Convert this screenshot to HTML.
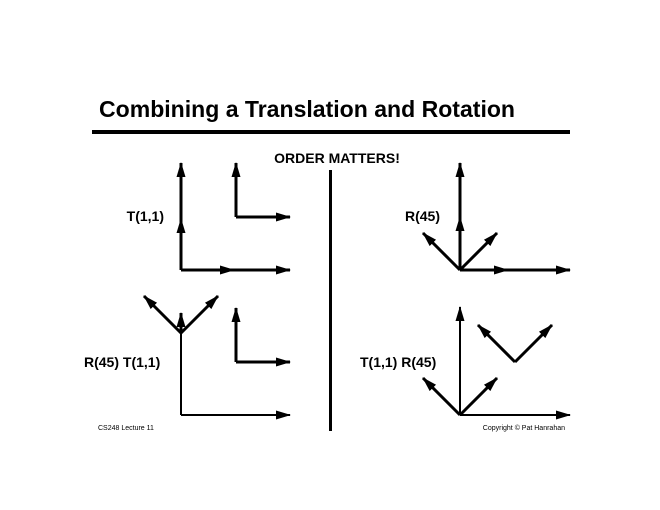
<!DOCTYPE html>
<html><head><meta charset="utf-8"><style>
html,body{margin:0;padding:0;background:#fff;width:660px;height:510px;overflow:hidden}
svg{display:block}
text{font-family:"Liberation Sans",sans-serif;font-weight:bold;fill:#000}
</style></head><body>
<svg width="660" height="510" viewBox="0 0 660 510" xmlns="http://www.w3.org/2000/svg">
<defs>
<marker id="a" markerUnits="userSpaceOnUse" markerWidth="15" markerHeight="10" refX="14" refY="5" orient="auto">
<path d="M0,0.5 L15,5 L0,9.5 Z" fill="#000"/></marker>
</defs>
<text x="99" y="117" font-size="23" textLength="416" lengthAdjust="spacingAndGlyphs">Combining a Translation and Rotation</text>
<rect x="92" y="130" width="478" height="4" fill="#000"/>
<text x="337" y="163" font-size="14" text-anchor="middle">ORDER MATTERS!</text>
<rect x="329" y="170" width="3" height="261" fill="#000"/>
<g stroke="#000" stroke-width="3" fill="none">
<path d="M181,270 L181,163" marker-end="url(#a)"/>
<path d="M181,270 L181,219" marker-end="url(#a)"/>
<path d="M181,270 L290,270" marker-end="url(#a)"/>
<path d="M181,270 L234,270" marker-end="url(#a)"/>
<path d="M236,217 L236,163" marker-end="url(#a)"/>
<path d="M236,217 L290,217" marker-end="url(#a)"/>
<path d="M181,415 L181,313" stroke-width="2"/>
<path d="M181,333 L181,313" marker-end="url(#a)"/>
<path d="M181,415 L290,415" stroke-width="2" marker-end="url(#a)"/>
<path d="M181,333 L144,296" marker-end="url(#a)"/>
<path d="M181,333 L218,296" marker-end="url(#a)"/>
<path d="M236,362 L236,308" marker-end="url(#a)"/>
<path d="M236,362 L290,362" marker-end="url(#a)"/>
<path d="M460,270 L460,163" marker-end="url(#a)"/>
<path d="M460,270 L460,217" marker-end="url(#a)"/>
<path d="M460,270 L570,270" marker-end="url(#a)"/>
<path d="M460,270 L508,270" marker-end="url(#a)"/>
<path d="M460,270 L423,233" marker-end="url(#a)"/>
<path d="M460,270 L497,233" marker-end="url(#a)"/>
<path d="M460,415 L460,307" stroke-width="2" marker-end="url(#a)"/>
<path d="M460,415 L570,415" stroke-width="2" marker-end="url(#a)"/>
<path d="M460,415 L423,378" marker-end="url(#a)"/>
<path d="M460,415 L497,378" marker-end="url(#a)"/>
<path d="M515,362 L478,325" marker-end="url(#a)"/>
<path d="M515,362 L552,325" marker-end="url(#a)"/>
</g>
<text x="164" y="221" font-size="14" text-anchor="end">T(1,1)</text>
<text x="405" y="221" font-size="14">R(45)</text>
<text x="84" y="367" font-size="14">R(45) T(1,1)</text>
<text x="360" y="367" font-size="14">T(1,1) R(45)</text>
<text x="98" y="430" font-size="7" style="font-weight:normal">CS248 Lecture 11</text>
<text x="565" y="430" font-size="7" style="font-weight:normal" text-anchor="end">Copyright © Pat Hanrahan</text>
</svg>
</body></html>
